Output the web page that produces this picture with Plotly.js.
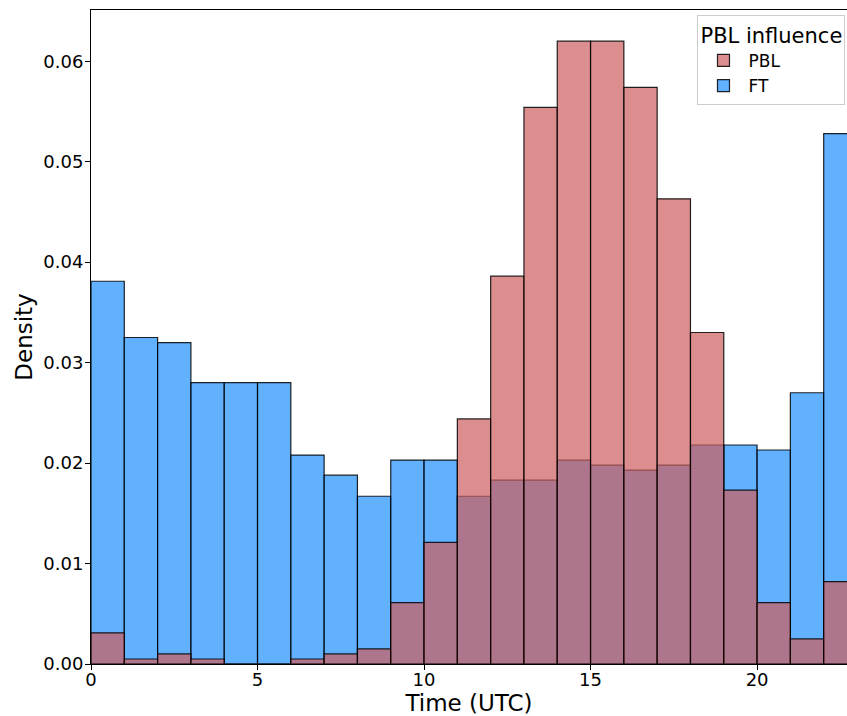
<!DOCTYPE html>
<html>
<head>
<meta charset="utf-8">
<script src="https://cdn.plot.ly/plotly-3.0.1.min.js"></script>
<style>html,body{margin:0;padding:0;background:#fff;}#chart{width:847px;height:716px;}</style>
</head>
<body>
<div id="chart"></div>
<script>
const binCenters = [0.5,1.5,2.5,3.5,4.5,5.5,6.5,7.5,8.5,9.5,10.5,11.5,12.5,13.5,14.5,15.5,16.5,17.5,18.5,19.5,20.5,21.5,22.5];
const ftDensity  = [0.0381,0.0325,0.0320,0.0280,0.0280,0.0280,0.0208,0.0188,0.0167,0.0203,0.0203,0.0167,0.0183,0.0183,0.0203,0.0198,0.0193,0.0198,0.0218,0.0218,0.0213,0.0270,0.0528];
const pblDensity = [0.0031,0.0005,0.0010,0.0005,0.0000,0.0000,0.0005,0.0010,0.0015,0.0061,0.0121,0.0244,0.0386,0.0554,0.0620,0.0620,0.0574,0.0463,0.0330,0.0173,0.0061,0.0025,0.0082];
const xTicks = [0,5,10,15,20];
const yTicks = [0,0.01,0.02,0.03,0.04,0.05,0.06];

const traces = [
  {type:'bar', name:'FT', x:binCenters, y:ftDensity, width:1,
   marker:{color:'rgba(30,144,255,0.7)', line:{color:'rgba(0,0,0,0.85)', width:1.2}}},
  {type:'bar', name:'PBL', x:binCenters, y:pblDensity, width:1,
   marker:{color:'rgba(205,92,92,0.7)', line:{color:'rgba(0,0,0,0.85)', width:1.2}}}
];
const layout = {
  width:847, height:716,
  margin:{l:91, r:0, t:10, b:52},
  barmode:'overlay', bargap:0,
  paper_bgcolor:'#fff', plot_bgcolor:'#fff',
  font:{family:'DejaVu Sans', color:'#000'},
  xaxis:{range:[0,22.7], tickvals:xTicks, ticktext:xTicks.map(String),
    showgrid:false, zeroline:false, showline:true, linecolor:'#000', linewidth:1, mirror:true,
    ticks:'outside', ticklen:5, tickcolor:'#000', tickfont:{size:18}, ticklabelstandoff:-6,
    title:{text:'Time (UTC)', font:{size:23}, standoff:2}},
  yaxis:{range:[0,0.0651], tickvals:yTicks, ticktext:yTicks.map(v=>v.toFixed(2)),
    showgrid:false, zeroline:false, showline:true, linecolor:'#000', linewidth:1, mirror:true,
    ticks:'outside', ticklen:5, tickcolor:'#000', tickfont:{size:18}, ticklabelstandoff:-2,
    title:{text:'Density', font:{size:23}, standoff:4}},
  showlegend:true,
  legend:{x:0.998, xanchor:'right', y:0.993, yanchor:'top', traceorder:'reversed',
    bgcolor:'rgba(255,255,255,0.8)', bordercolor:'#ccc', borderwidth:1,
    font:{size:17}, itemwidth:40, title:{text:'PBL influence', font:{size:21}}}
};
Plotly.newPlot('chart', traces, layout, {displayModeBar:false, staticPlot:true});
</script>
</body>
</html>
